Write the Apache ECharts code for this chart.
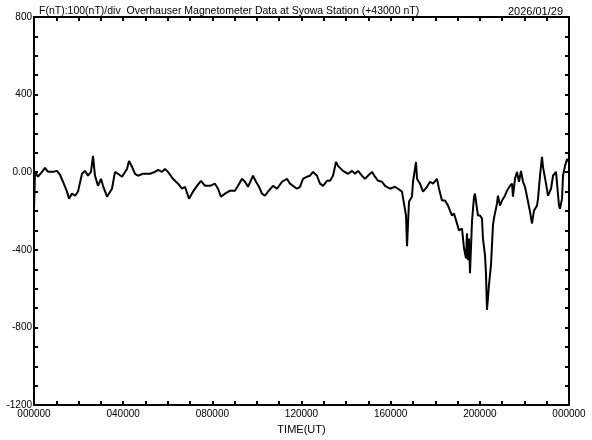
<!DOCTYPE html>
<html><head><meta charset="utf-8">
<script src="https://cdn.jsdelivr.net/npm/echarts@6/dist/echarts.min.js"></script>
<style>html,body{margin:0;padding:0;background:#fff}#c{width:592px;height:440px}</style>
</head><body><div id="c"></div>
<script>
// time in minutes UT (0..1440), value in nT (offset from 43000 nT)
const timeMin = [0,2.7,10.8,21.5,29.6,37.7,51.1,61.9,70,78,88.8,94.2,102.3,110.4,118.4,129.2,137.3,145.3,153.4,158.8,164.2,172.3,180.3,185.7,196.5,209.9,218,226.1,236.9,250.3,255.7,263.8,271.9,279.9,293.4,312.2,325.7,333.8,344.5,352.6,360.7,366,374.1,387.6,398.4,406.4,417.2,428,438.7,449.5,460.3,473.7,487.2,495.3,503.3,514.1,527.6,541,549.1,559.9,567.9,576,589.5,597.5,605.6,613.7,621.8,629.8,643.3,654.1,667.5,681,689,697.1,707.9,716,724,734.8,742.9,751,761.7,769.8,777.9,788.6,796.7,804.8,812.9,818.2,831.7,845.2,855.9,864,872.1,882.8,890.9,899,909.8,917.8,925.9,936.7,944.8,958.2,971.7,979.7,990.5,995.9,1001.3,1004,1009.4,1017.4,1020.1,1028.2,1030.9,1039,1047,1057.8,1065.9,1074,1084.7,1090.1,1098.2,1106.3,1114.3,1125.1,1130.5,1138.5,1143.9,1152,1157.4,1162.8,1165.4,1168.1,1170.8,1173.5,1178.9,1184.3,1186.9,1192.3,1195,1200.4,1205.8,1208.4,1213.9,1216.5,1219.2,1221.9,1224.6,1230,1235.3,1238,1246.1,1248.8,1254.2,1259.6,1267.7,1273.1,1281.2,1286.6,1289.2,1294.6,1300,1305.4,1310.8,1316.2,1321.6,1329.6,1335,1340.4,1345.8,1353.9,1356.6,1362,1367.3,1370,1378.1,1383.5,1391.6,1397,1405,1407.7,1413.1,1415.8,1421.2,1423.9,1429.3,1434.7,1437.4,1440];
const fValues = [-198,2,-23,2,22,2,2,7,-13,-49,-100,-136,-110,-121,-100,-8,7,-18,2,84,-18,-70,-34,-70,-126,-85,2,-8,-23,17,58,28,-8,-18,-8,-8,2,12,2,17,2,2,-34,-59,-85,-75,-136,-100,-70,-44,-70,-70,-59,-85,-126,-110,-95,-95,-70,-34,-49,-75,-18,-49,-75,-110,-121,-100,-70,-85,-49,-34,-59,-70,-85,-75,-34,-23,-18,2,-18,-59,-70,-44,-44,-18,53,33,7,-8,7,-8,7,-18,-34,-18,2,-23,-44,-49,-70,-85,-75,-85,-100,-162,-223,-381,-151,-126,-49,53,-34,-59,-100,-75,-49,-59,-34,-85,-146,-146,-172,-223,-213,-264,-300,-290,-392,-443,-315,-453,-341,-520,-254,-126,-110,-188,-223,-223,-238,-341,-428,-520,-709,-648,-581,-479,-274,-238,-162,-121,-172,-146,-121,-95,-70,-59,-126,-34,2,-49,7,-49,-75,-151,-203,-264,-197,-172,-136,-18,79,28,-59,-121,-85,-18,2,2,-172,-188,-136,-18,33,68,57,57];
const xTickLabels = {0:'000000',240:'040000',480:'080000',720:'120000',960:'160000',1200:'200000',1440:'000000'};
const yTickLabels = {800:'800',400:'400',0:'0.00','-400':'-400','-800':'-800','-1200':'-1200'};
const titleText = 'F(nT):100(nT)/div  Overhauser Magnetometer Data at Syowa Station (+43000 nT)';
const dateText = '2026/01/29';
const xName = 'TIME(UT)';

const FONT = 'Liberation Sans';
const chart = echarts.init(document.getElementById('c'), null, {renderer:'canvas'});
const axisLine = {show:true, onZero:false, lineStyle:{color:'#000', width:2}};
const tick = {show:true, inside:true, length:4, lineStyle:{color:'#000', width:2}};
chart.setOption({
  animation:false,
  backgroundColor:'#fff',
  title:[
    {text:titleText, left:34, top:1, textStyle:{fontFamily:FONT, fontSize:10.5, fontWeight:'normal', color:'#000'}},
    {text:dateText, right:24, top:1, textStyle:{fontFamily:FONT, fontSize:11, fontWeight:'normal', color:'#000'}}
  ],
  grid:{left:34, right:23, top:17, bottom:32, containLabel:false},
  xAxis:[
    {type:'value', min:0, max:1440, interval:60, position:'bottom',
     axisLine:axisLine, axisTick:tick, splitLine:{show:false},
     axisLabel:{show:true, margin:4, fontFamily:FONT, fontSize:10, color:'#000', showMinLabel:true, showMaxLabel:true,
       formatter:v=> (xTickLabels[v]!==undefined ? xTickLabels[v] : '')},
     name:xName, nameLocation:'middle', nameGap:18, nameTextStyle:{fontFamily:FONT, fontSize:11, color:'#000'}},
    {type:'value', min:0, max:1440, interval:60, position:'top',
     axisLine:axisLine, axisTick:tick, splitLine:{show:false}, axisLabel:{show:false}}
  ],
  yAxis:[
    {type:'value', min:-1200, max:800, interval:100, position:'left',
     axisLine:axisLine, axisTick:tick, splitLine:{show:false},
     axisLabel:{show:true, margin:2, fontFamily:FONT, fontSize:10, color:'#000', showMinLabel:true, showMaxLabel:true,
       formatter:v=> (yTickLabels[v]!==undefined ? yTickLabels[v] : '')}},
    {type:'value', min:-1200, max:800, interval:100, position:'right',
     axisLine:axisLine, axisTick:tick, splitLine:{show:false}, axisLabel:{show:false}}
  ],
  series:[{
    type:'line', xAxisIndex:0, yAxisIndex:0, showSymbol:false, symbol:'none',
    lineStyle:{color:'#000', width:2},
    data:timeMin.map((t,i)=>[t,fValues[i]])
  }]
});
</script></body></html>
